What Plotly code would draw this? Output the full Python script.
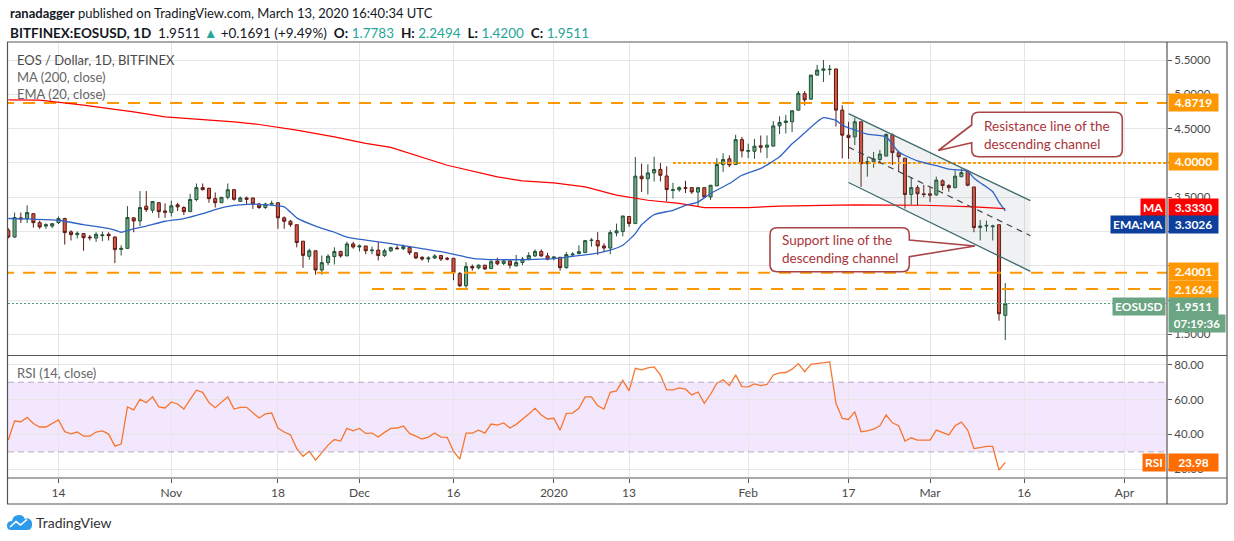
import plotly.graph_objects as go
import pandas as pd

# ---------------- data ----------------
OPEN = [3.02, 2.92, 3.20, 3.19, 3.26, 3.13, 3.08, 3.08, 3.13, 3.19,
        2.995, 2.955, 2.97, 2.92, 2.905, 2.94, 2.96, 2.92, 2.74, 2.755,
        3.20, 3.155, 3.37, 3.31, 3.42, 3.30, 3.28, 3.39, 3.35, 3.29,
        3.467, 3.64, 3.63, 3.48, 3.42, 3.50, 3.61, 3.44, 3.49, 3.49,
        3.40, 3.35, 3.40, 3.42, 3.20, 3.15, 3.10, 2.86, 2.64, 2.72,
        2.44, 2.547, 2.635, 2.71, 2.645, 2.82, 2.775, 2.79, 2.72, 2.73,
        2.65, 2.72, 2.76, 2.75, 2.77, 2.69, 2.625, 2.60, 2.615, 2.65,
        2.61, 2.61, 2.39, 2.21, 2.49, 2.47, 2.51, 2.46, 2.57, 2.535,
        2.57, 2.50, 2.55, 2.60, 2.645, 2.71, 2.645, 2.61, 2.625, 2.474,
        2.66, 2.678, 2.693, 2.87, 2.868, 2.79, 2.76, 2.98, 3.00, 3.22,
        3.116, 3.807, 3.77, 3.855, 3.905, 3.81, 3.60, 3.61, 3.64, 3.64,
        3.575, 3.64, 3.505, 3.665, 3.977, 4.06, 3.977, 4.34, 4.17, 4.17,
        4.25, 4.23, 4.245, 4.54, 4.59, 4.60, 4.77, 5.01, 4.93, 5.28,
        5.35, 5.36, 5.37, 4.77, 4.405, 4.38, 4.60, 3.99, 4.02, 4.05,
        4.10, 4.41, 4.15, 4.07, 3.54, 3.64, 3.55, 3.55, 3.535, 3.74,
        3.67, 3.64, 3.80, 3.88, 3.65, 3.06, 3.08, 3.07, 3.10, 1.7783]
HIGH = [3.05, 3.277, 3.277, 3.383, 3.27, 3.16, 3.12, 3.12, 3.22, 3.20,
        3.02, 3.00, 2.975, 2.95, 2.99, 3.00, 2.99, 2.93, 2.80, 3.37,
        3.21, 3.59, 3.59, 3.437, 3.43, 3.41, 3.45, 3.42, 3.37, 3.55,
        3.70, 3.70, 3.64, 3.57, 3.50, 3.70, 3.62, 3.51, 3.51, 3.49,
        3.42, 3.42, 3.45, 3.43, 3.22, 3.17, 3.10, 2.86, 2.75, 2.72,
        2.65, 2.67, 2.77, 2.72, 2.85, 2.85, 2.81, 2.79, 2.78, 2.85,
        2.75, 2.78, 2.80, 2.81, 2.78, 2.70, 2.64, 2.64, 2.67, 2.66,
        2.63, 2.61, 2.41, 2.555, 2.52, 2.52, 2.51, 2.60, 2.62, 2.60,
        2.58, 2.66, 2.63, 2.70, 2.74, 2.74, 2.69, 2.64, 2.625, 2.70,
        2.70, 2.80, 2.868, 2.905, 2.994, 2.83, 3.02, 3.116, 3.227, 3.22,
        4.088, 3.99, 3.98, 4.09, 4.00, 3.95, 3.71, 3.66, 3.74, 3.64,
        3.64, 3.64, 3.675, 4.07, 4.14, 4.11, 4.41, 4.38, 4.28, 4.35,
        4.40, 4.40, 4.61, 4.68, 4.70, 4.77, 5.05, 5.05, 5.28, 5.43,
        5.50, 5.43, 5.37, 4.84, 4.60, 4.66, 4.60, 4.09, 4.16, 4.19,
        4.43, 4.43, 4.18, 4.07, 3.79, 3.675, 3.68, 3.65, 3.80, 3.76,
        3.69, 3.89, 3.92, 3.90, 3.65, 3.17, 3.16, 3.10, 3.10, 2.2494]
LOW = [2.90, 2.91, 3.125, 3.125, 3.057, 3.04, 3.04, 3.05, 3.11, 2.81,
       2.87, 2.90, 2.72, 2.87, 2.85, 2.86, 2.87, 2.54, 2.65, 2.75,
       2.99, 3.08, 3.285, 3.27, 3.20, 3.20, 3.22, 3.30, 3.24, 3.29,
       3.44, 3.60, 3.42, 3.35, 3.42, 3.47, 3.45, 3.43, 3.40, 3.33,
       3.33, 3.33, 3.38, 3.04, 3.04, 3.07, 2.77, 2.47, 2.59, 2.37,
       2.37, 2.51, 2.52, 2.62, 2.645, 2.75, 2.71, 2.67, 2.67, 2.58,
       2.63, 2.70, 2.74, 2.73, 2.66, 2.60, 2.575, 2.55, 2.60, 2.57,
       2.58, 2.29, 2.19, 2.18, 2.43, 2.45, 2.44, 2.46, 2.51, 2.51,
       2.46, 2.49, 2.51, 2.58, 2.63, 2.63, 2.58, 2.58, 2.43, 2.46,
       2.63, 2.67, 2.69, 2.78, 2.66, 2.71, 2.67, 2.93, 2.93, 3.07,
       3.116, 3.577, 3.54, 3.73, 3.73, 3.44, 3.48, 3.58, 3.56, 3.55,
       3.36, 3.49, 3.46, 3.665, 3.87, 3.94, 3.977, 4.08, 4.07, 4.06,
       4.15, 4.07, 4.245, 4.42, 4.43, 4.45, 4.76, 4.84, 4.92, 5.27,
       5.18, 5.28, 4.53, 4.065, 4.06, 4.26, 3.65, 3.80, 3.93, 4.00,
       4.10, 3.97, 3.87, 3.335, 3.39, 3.38, 3.50, 3.43, 3.52, 3.60,
       3.58, 3.63, 3.79, 3.66, 2.99, 2.87, 3.00, 2.87, 1.70, 1.42]
CLOSE = [2.92, 3.204, 3.184, 3.277, 3.13, 3.067, 3.10, 3.115, 3.19, 2.985,
         2.955, 2.975, 2.91, 2.91, 2.96, 2.95, 2.94, 2.737, 2.755, 3.204,
         3.155, 3.35, 3.32, 3.437, 3.29, 3.28, 3.375, 3.36, 3.29, 3.467,
         3.64, 3.61, 3.48, 3.42, 3.50, 3.61, 3.47, 3.49, 3.47, 3.40,
         3.35, 3.40, 3.41, 3.20, 3.15, 3.10, 2.84, 2.653, 2.72, 2.44,
         2.547, 2.64, 2.71, 2.645, 2.82, 2.775, 2.79, 2.72, 2.73, 2.65,
         2.72, 2.765, 2.75, 2.78, 2.69, 2.615, 2.60, 2.615, 2.645, 2.60,
         2.60, 2.40, 2.21, 2.49, 2.47, 2.51, 2.455, 2.56, 2.53, 2.57,
         2.51, 2.55, 2.60, 2.65, 2.71, 2.645, 2.60, 2.63, 2.474, 2.664,
         2.67, 2.707, 2.868, 2.875, 2.79, 2.76, 2.985, 3.01, 3.227, 3.116,
         3.807, 3.77, 3.855, 3.905, 3.82, 3.612, 3.61, 3.64, 3.63, 3.577,
         3.64, 3.505, 3.675, 3.977, 4.05, 3.97, 4.34, 4.176, 4.18, 4.245,
         4.23, 4.26, 4.54, 4.59, 4.61, 4.76, 5.014, 4.92, 5.28, 5.354,
         5.37, 5.365, 4.77, 4.405, 4.37, 4.60, 3.99, 4.02, 4.06, 4.13,
         4.415, 4.15, 4.09, 3.54, 3.64, 3.55, 3.54, 3.53, 3.75, 3.67,
         3.64, 3.807, 3.86, 3.675, 3.058, 3.08, 3.09, 3.08, 1.802, 1.9511]
RSI = [36.8, 47.7, 47.3, 49.8, 46.3, 44.3, 44.3, 46.2, 48.3, 41.6,
       40.4, 41.4, 39.1, 39.1, 41.4, 42.0, 40.2, 33.3, 34.5, 55.8,
       54.1, 60.2, 58.3, 61.6, 55.8, 55.2, 58.7, 57.5, 54.6, 60.2,
       65.4, 64.2, 58.3, 55.4, 58.3, 61.6, 54.6, 55.6, 55.6, 52.3,
       49.5, 51.8, 52.3, 43.7, 41.4, 39.8, 31.9, 27.5, 30.4, 25.2,
       29.5, 33.9, 37.1, 36.2, 43.5, 42.1, 43.5, 40.6, 40.8, 38.5,
       41.2, 43.5, 43.7, 44.8, 40.6, 39.2, 37.4, 38.5, 40.8, 38.5,
       38.3, 30.4, 25.8, 40.8, 40.8, 42.5, 40.8, 46.0, 45.4, 46.6,
       43.7, 45.8, 48.6, 51.8, 55.0, 51.2, 48.9, 49.3, 42.5, 52.1,
       52.3, 55.0, 61.6, 61.6, 56.5, 54.6, 64.2, 65.0, 71.1, 65.0,
       78.0, 77.1, 78.3, 78.8, 74.2, 65.6, 65.6, 66.7, 66.0, 62.7,
       64.4, 57.9, 63.1, 69.4, 71.4, 68.1, 74.2, 67.5, 67.3, 69.0,
       68.1, 68.7, 74.2, 75.4, 75.6, 77.5, 80.7, 76.1, 80.3, 80.7,
       81.5, 81.7, 57.9, 49.2, 48.6, 53.1, 41.6, 42.1, 43.1, 45.0,
       51.2, 46.7, 45.0, 36.2, 38.1, 36.8, 36.8, 36.8, 42.5, 41.2,
       39.7, 45.0, 47.1, 42.5, 31.9, 32.5, 33.1, 33.1, 19.5, 23.98]
DATES = pd.date_range("2019-10-06", periods=len(CLOSE), freq="D")

EMA_DATES = ["2019-10-06", "2019-10-10", "2019-10-14", "2019-10-18", "2019-10-21",
             "2019-10-23", "2019-10-24", "2019-10-26", "2019-10-28", "2019-10-31",
             "2019-11-03", "2019-11-06", "2019-11-08", "2019-11-11", "2019-11-14",
             "2019-11-16", "2019-11-19", "2019-11-21", "2019-11-24", "2019-11-27",
             "2019-11-29", "2019-12-04", "2019-12-07", "2019-12-11", "2019-12-15",
             "2019-12-19", "2019-12-23", "2019-12-29", "2020-01-01", "2020-01-04",
             "2020-01-07", "2020-01-10", "2020-01-12", "2020-01-14", "2020-01-15",
             "2020-01-17", "2020-01-20", "2020-01-22", "2020-01-24", "2020-01-26",
             "2020-01-29", "2020-01-31", "2020-02-03", "2020-02-06", "2020-02-08",
             "2020-02-09", "2020-02-12", "2020-02-13", "2020-02-15", "2020-02-16",
             "2020-02-18", "2020-02-20", "2020-02-23", "2020-02-25", "2020-02-28",
             "2020-03-02", "2020-03-04", "2020-03-07", "2020-03-08", "2020-03-09",
             "2020-03-10", "2020-03-11", "2020-03-12", "2020-03-13"]
EMA_VALUES = [3.19, 3.18, 3.165, 3.10, 3.06,
              3.02, 2.99, 3.04, 3.08, 3.15,
              3.19, 3.26, 3.32, 3.38, 3.40,
              3.39, 3.36, 3.20, 3.08, 2.99,
              2.92, 2.85, 2.81, 2.75, 2.69,
              2.61, 2.59, 2.595, 2.605, 2.64,
              2.67, 2.73, 2.80, 2.97, 3.10,
              3.247, 3.31, 3.383, 3.43, 3.555,
              3.70, 3.82, 3.92, 4.09, 4.28,
              4.357, 4.60, 4.66, 4.62, 4.55,
              4.48, 4.42, 4.38, 4.16, 4.03,
              3.96, 3.91, 3.88, 3.78, 3.71,
              3.65, 3.58, 3.43, 3.3026]

MA_DATES = ["2019-10-06", "2019-10-11", "2019-10-18", "2019-10-26", "2019-10-31",
            "2019-11-06", "2019-11-11", "2019-11-15", "2019-11-21", "2019-11-27",
            "2019-12-02", "2019-12-06", "2019-12-11", "2019-12-15", "2019-12-23",
            "2019-12-27", "2020-01-01", "2020-01-06", "2020-01-11", "2020-01-16",
            "2020-01-21", "2020-01-25", "2020-02-01", "2020-02-06", "2020-02-18",
            "2020-02-29", "2020-03-08", "2020-03-13"]
MA_VALUES = [4.92, 4.915, 4.843, 4.745, 4.672,
             4.634, 4.60, 4.56, 4.478, 4.38,
             4.284, 4.226, 4.088, 3.967, 3.796,
             3.74, 3.71, 3.65, 3.53, 3.456,
             3.41, 3.35, 3.35, 3.37, 3.39,
             3.383, 3.36, 3.333]

LEVEL_DASHED = [4.8719, 2.4001, 2.1624]
LEVEL_DASHED_START = ["2019-10-05", "2019-10-05", "2019-12-03"]
LEVEL_DOTTED = 4.0
LEVEL_DOTTED_START = "2020-01-20"
LAST_PRICE = 1.9511
MA_LAST = 3.3330
EMA_LAST = 3.3026
RSI_LAST = 23.98

CHANNEL_X = ["2020-02-17", "2020-03-17"]
CHANNEL_UPPER = [4.72, 3.45]
CHANNEL_LOWER = [3.715, 2.42]
CHANNEL_MID = [4.23, 2.94]

TICK_DATES = ["2019-10-14", "2019-11-01", "2019-11-18", "2019-12-01", "2019-12-16",
              "2020-01-01", "2020-01-13", "2020-02-01", "2020-02-17", "2020-03-01",
              "2020-03-16", "2020-04-01"]
TICK_TEXT = ["14", "Nov", "18", "Dec", "16", "2020", "13", "Feb", "17", "Mar", "16", "Apr"]
PRICE_TICKS = [1.5, 2.0, 2.5, 3.0, 3.5, 4.0, 4.5, 5.0, 5.5]
PRICE_TICKS_COVERED = [2.0, 2.5, 3.0, 4.0]   # hidden behind the coloured price tags
RSI_TICKS = [20, 40, 60, 80]

X_START = "2019-10-05 22:50"
X_END = "2020-04-07 19:00"

# ---------------- layout helpers (pixels -> paper) ----------------
W, H = 1234, 541
L, R, T, B = 8, 1167, 42, 478


def px(x):
    return (x - L) / (R - L)


def py(y):
    return (B - y) / (B - T)


ORANGE = "#ff9800"
UP_FILL, UP_LINE = "#6ba583", "#225437"
DN_FILL, DN_LINE = "#d75442", "#5b1a13"
GRID = "#e6e6e6"
FRAME = "#555555"
TXT = "#4a4a4a"
FONT = "Lato"

fig = go.Figure()

# channel fill
fig.add_trace(go.Scatter(
    x=[CHANNEL_X[0], CHANNEL_X[1], CHANNEL_X[1], CHANNEL_X[0]],
    y=[CHANNEL_UPPER[0], CHANNEL_UPPER[1], CHANNEL_LOWER[1], CHANNEL_LOWER[0]],
    fill="toself", fillcolor="rgba(120,123,134,0.11)", line=dict(width=0),
    mode="lines", hoverinfo="skip", showlegend=False))

# horizontal levels
for lv, st in zip(LEVEL_DASHED, LEVEL_DASHED_START):
    fig.add_trace(go.Scatter(x=[st, X_END], y=[lv, lv], mode="lines",
                             line=dict(color=ORANGE, width=2, dash="12px,9px"),
                             hoverinfo="skip", showlegend=False))
fig.add_trace(go.Scatter(x=[LEVEL_DOTTED_START, X_END], y=[LEVEL_DOTTED, LEVEL_DOTTED],
                         mode="lines", line=dict(color=ORANGE, width=2, dash="3px,2px"),
                         hoverinfo="skip", showlegend=False))
fig.add_trace(go.Scatter(x=[X_START, X_END], y=[LAST_PRICE, LAST_PRICE], mode="lines",
                         line=dict(color="#4f9a70", width=1, dash="2px,2px"),
                         hoverinfo="skip", showlegend=False))

# MA 200 and EMA 20
fig.add_trace(go.Scatter(x=MA_DATES, y=MA_VALUES, mode="lines",
                         line=dict(color="#ff0000", width=1.2),
                         hoverinfo="skip", showlegend=False))
fig.add_trace(go.Scatter(x=EMA_DATES, y=EMA_VALUES, mode="lines",
                         line=dict(color="#2f63c6", width=1.3, shape="spline", smoothing=0.5),
                         hoverinfo="skip", showlegend=False))

# channel lines
for ys, col, dash, wd in [(CHANNEL_UPPER, "#3d6b6e", "solid", 1.3),
                          (CHANNEL_LOWER, "#3d6b6e", "solid", 1.3),
                          (CHANNEL_MID, "#444444", "6px,5px", 1.2)]:
    fig.add_trace(go.Scatter(x=CHANNEL_X, y=ys, mode="lines",
                             line=dict(color=col, width=wd, dash=dash),
                             hoverinfo="skip", showlegend=False))

# candles
fig.add_trace(go.Candlestick(
    x=DATES, open=OPEN, high=HIGH, low=LOW, close=CLOSE,
    increasing=dict(fillcolor=UP_FILL, line=dict(color=UP_LINE, width=1)),
    decreasing=dict(fillcolor=DN_FILL, line=dict(color=DN_LINE, width=1)),
    whiskerwidth=0, hoverinfo="skip", showlegend=False))

# RSI
fig.add_trace(go.Scatter(x=DATES, y=RSI, mode="lines", xaxis="x2", yaxis="y2",
                         line=dict(color="#f7762f", width=1.3),
                         hoverinfo="skip", showlegend=False))

shapes = []
# RSI band
shapes.append(dict(type="rect", xref="paper", yref="y2", x0=0, x1=1, y0=30, y1=70,
                   fillcolor="#f3e7fd", line=dict(width=0), layer="below"))
for lv in (30, 70):
    shapes.append(dict(type="line", xref="paper", yref="y2", x0=0, x1=1, y0=lv, y1=lv,
                       line=dict(color="#b6a9c0", width=1, dash="6px,4px")))


# frame
def hline(y, x0=7, x1=1227, col=FRAME, w=1.2):
    shapes.append(dict(type="line", xref="paper", yref="paper", x0=px(x0), x1=px(x1),
                       y0=py(y), y1=py(y), line=dict(color=col, width=w)))


def vline(x, y0=42, y1=504, col=FRAME, w=1.2):
    shapes.append(dict(type="line", xref="paper", yref="paper", x0=px(x), x1=px(x),
                       y0=py(y0), y1=py(y1), line=dict(color=col, width=w)))


hline(42)
hline(355.5)
hline(478)
hline(504)
vline(7.5)
vline(1167)
vline(1227)


def P(x, y):
    return f"{px(x):.5f},{py(y):.5f}"


# callout boxes
def callout(x0, y0, x1, y1, side, wy1, wy2, tip, r=7):
    d = f"M {P(x0 + r, y0)} L {P(x1 - r, y0)} Q {P(x1, y0)} {P(x1, y0 + r)} "
    if side == "right":
        d += f"L {P(x1, wy1)} L {P(*tip)} L {P(x1, wy2)} "
    d += f"L {P(x1, y1 - r)} Q {P(x1, y1)} {P(x1 - r, y1)} L {P(x0 + r, y1)} "
    d += f"Q {P(x0, y1)} {P(x0, y1 - r)} "
    if side == "left":
        d += f"L {P(x0, wy2)} L {P(*tip)} L {P(x0, wy1)} "
    d += f"L {P(x0, y0 + r)} Q {P(x0, y0)} {P(x0 + r, y0)} Z"
    shapes.append(dict(type="path", xref="paper", yref="paper", path=d,
                       fillcolor="white", line=dict(color="#a94546", width=1.6)))


callout(971.7, 112.3, 1122.3, 156.7, "left", 125, 142.7, (938.3, 150.5))
callout(770, 227.7, 909.3, 271.7, "right", 240, 256.7, (975, 246))

# TradingView logo icon
cloud = (f"M {P(11, 530)} Q {P(7, 530)} {P(7, 525.5)} Q {P(7, 521)} {P(12, 521)} "
         f"Q {P(13, 515)} {P(19, 515)} Q {P(24, 515)} {P(25, 519.5)} "
         f"Q {P(27, 517.5)} {P(29.5, 519)} Q {P(32.5, 521)} {P(32, 525)} "
         f"Q {P(32, 530)} {P(27, 530)} Z")
shapes.append(dict(type="path", xref="paper", yref="paper", path=cloud,
                   fillcolor="#2e9bea", line=dict(width=0)))
shapes.append(dict(type="path", xref="paper", yref="paper",
                   path=f"M {P(10, 527)} L {P(16, 521.5)} L {P(20.5, 525)} L {P(27, 519.5)}",
                   line=dict(color="white", width=1.6)))

annotations = []


def text(x, y, s, size=13, color=TXT, anchor="left", family=FONT):
    annotations.append(dict(xref="paper", yref="paper", x=px(x), y=py(y), text=s,
                            showarrow=False, xanchor=anchor, yanchor="middle",
                            font=dict(family=family, size=size, color=color)))


TEAL = "#26a69a"
SP = "&nbsp;"
text(8, 13, "<b>ranadagger</b> published on TradingView.com, March 13, 2020 16:40:34 UTC",
     size=13, color="#131722")
text(8, 33, ("<b>BITFINEX:EOSUSD, 1D</b>" + SP * 2 + "1.9511 <span style='color:%s'>▲</span> "
             "+0.1691 (+9.49%%)" + SP * 2 + "<b>O:</b>" + SP + "<span style='color:%s'>1.7783</span>"
             + SP * 2 + "<b>H:</b>" + SP + "<span style='color:%s'>2.2494</span>" + SP * 2 +
             "<b>L:</b>" + SP + "<span style='color:%s'>1.4200</span>" + SP * 2 +
             "<b>C:</b>" + SP + "<span style='color:%s'>1.9511</span>")
     % (TEAL, TEAL, TEAL, TEAL, TEAL), size=13.5, color="#131722")
text(15, 60, "EOS / Dollar, 1D, BITFINEX", size=13, color="#4a4a4a")
text(15, 77, "MA (200, close)", size=13, color="#666666")
text(15, 94, "EMA (20, close)", size=13, color="#666666")
text(15, 373, "RSI (14, close)", size=13, color="#666666")
text(34, 522, "TradingView", size=14, color="#333333")

# callout texts
annotations.append(dict(xref="paper", yref="paper", x=px(1047), y=py(134.5),
                        text="Resistance line of the<br>descending channel", showarrow=False,
                        xanchor="center", yanchor="middle", align="left",
                        font=dict(family=FONT, size=13.5, color="#a8353a")))
annotations.append(dict(xref="paper", yref="paper", x=px(840), y=py(249.5),
                        text="Support line of the<br>descending channel", showarrow=False,
                        xanchor="center", yanchor="middle", align="left",
                        font=dict(family=FONT, size=13.5, color="#a8353a")))


def tag(value, label, bg, yref="y", shift=0, left=None, width=45):
    annotations.append(dict(xref="paper", yref=yref, x=px(1167.5), y=value, yshift=shift,
                            text="<b>%s</b>" % label, showarrow=False, xanchor="left",
                            yanchor="middle", bgcolor=bg, width=width, height=13, borderpad=2,
                            font=dict(family=FONT, size=12, color="white")))
    if left:
        annotations.append(dict(xref="paper", yref=yref, x=px(1165.5), y=value, yshift=shift,
                                text="<b>%s</b>" % left, showarrow=False, xanchor="right",
                                yanchor="middle", bgcolor=bg, height=13, borderpad=2,
                                font=dict(family=FONT, size=12, color="white")))


tag(LEVEL_DASHED[0], "%.4f" % LEVEL_DASHED[0], ORANGE, shift=1)
tag(LEVEL_DOTTED, "%.4f" % LEVEL_DOTTED, ORANGE, shift=1)
tag(MA_LAST, "%.4f" % MA_LAST, "#ff0000", shift=1.5, left="MA")
tag(EMA_LAST, "%.4f" % EMA_LAST, "#0d409c", shift=-14, left="EMA:MA")
tag(LEVEL_DASHED[1], "%.4f" % LEVEL_DASHED[1], ORANGE, shift=1)
tag(LEVEL_DASHED[2], "%.4f" % LEVEL_DASHED[2], ORANGE, shift=0)
tag(LAST_PRICE, "%.4f" % LAST_PRICE, "#6ba583", shift=-2.5, left="EOSUSD")
annotations.append(dict(xref="paper", yref="y", x=px(1167.5), y=LAST_PRICE, yshift=-20,
                        text="<b>07:19:36</b>", showarrow=False, xanchor="left",
                        yanchor="middle", bgcolor="#6ba583", width=52, height=13, borderpad=2,
                        font=dict(family=FONT, size=11.5, color="white")))
tag(RSI_LAST, "%.2f" % RSI_LAST, "#ff6d00", yref="y2", shift=0, left="RSI")

price_ticktext = ["" if v in PRICE_TICKS_COVERED else "%.4f" % v for v in PRICE_TICKS]

fig.update_layout(
    width=W, height=H,
    margin=dict(l=L, r=W - R, t=T, b=H - B),
    paper_bgcolor="white", plot_bgcolor="white",
    showlegend=False,
    font=dict(family=FONT, size=11, color=TXT),
    shapes=shapes, annotations=annotations,
    xaxis=dict(type="date", range=[X_START, X_END], domain=[0, 1], anchor="y",
               tickvals=TICK_DATES, ticktext=TICK_TEXT, showticklabels=False,
               showgrid=True, gridcolor=GRID, gridwidth=1, zeroline=False,
               rangeslider=dict(visible=False), showline=False, ticks=""),
    yaxis=dict(domain=[(B - 355.5) / (B - T), 1], range=[1.1934, 5.7628], side="right",
               tickvals=PRICE_TICKS, ticktext=price_ticktext,
               showgrid=True, gridcolor=GRID, zeroline=False, ticks="outside",
               ticklen=4, tickcolor=FRAME, tickfont=dict(family=FONT, size=11.5, color=TXT),
               showline=False),
    xaxis2=dict(type="date", matches="x", anchor="y2", domain=[0, 1],
                tickvals=TICK_DATES, ticktext=TICK_TEXT, showgrid=True, gridcolor=GRID,
                zeroline=False, ticks="outside", ticklen=4, tickcolor=FRAME,
                tickfont=dict(family=FONT, size=12, color=TXT), showline=False),
    yaxis2=dict(domain=[0, (B - 355.5) / (B - T)], range=[14.99, 85.36], side="right",
                tickvals=RSI_TICKS, ticktext=["%.2f" % v for v in RSI_TICKS],
                showgrid=True, gridcolor=GRID, zeroline=False, ticks="outside",
                ticklen=4, tickcolor=FRAME, tickfont=dict(family=FONT, size=11.5, color=TXT),
                showline=False),
)

fig.write_html("out.html", config={"displayModeBar": False},
               post_script="document.body.style.margin='0px';")
